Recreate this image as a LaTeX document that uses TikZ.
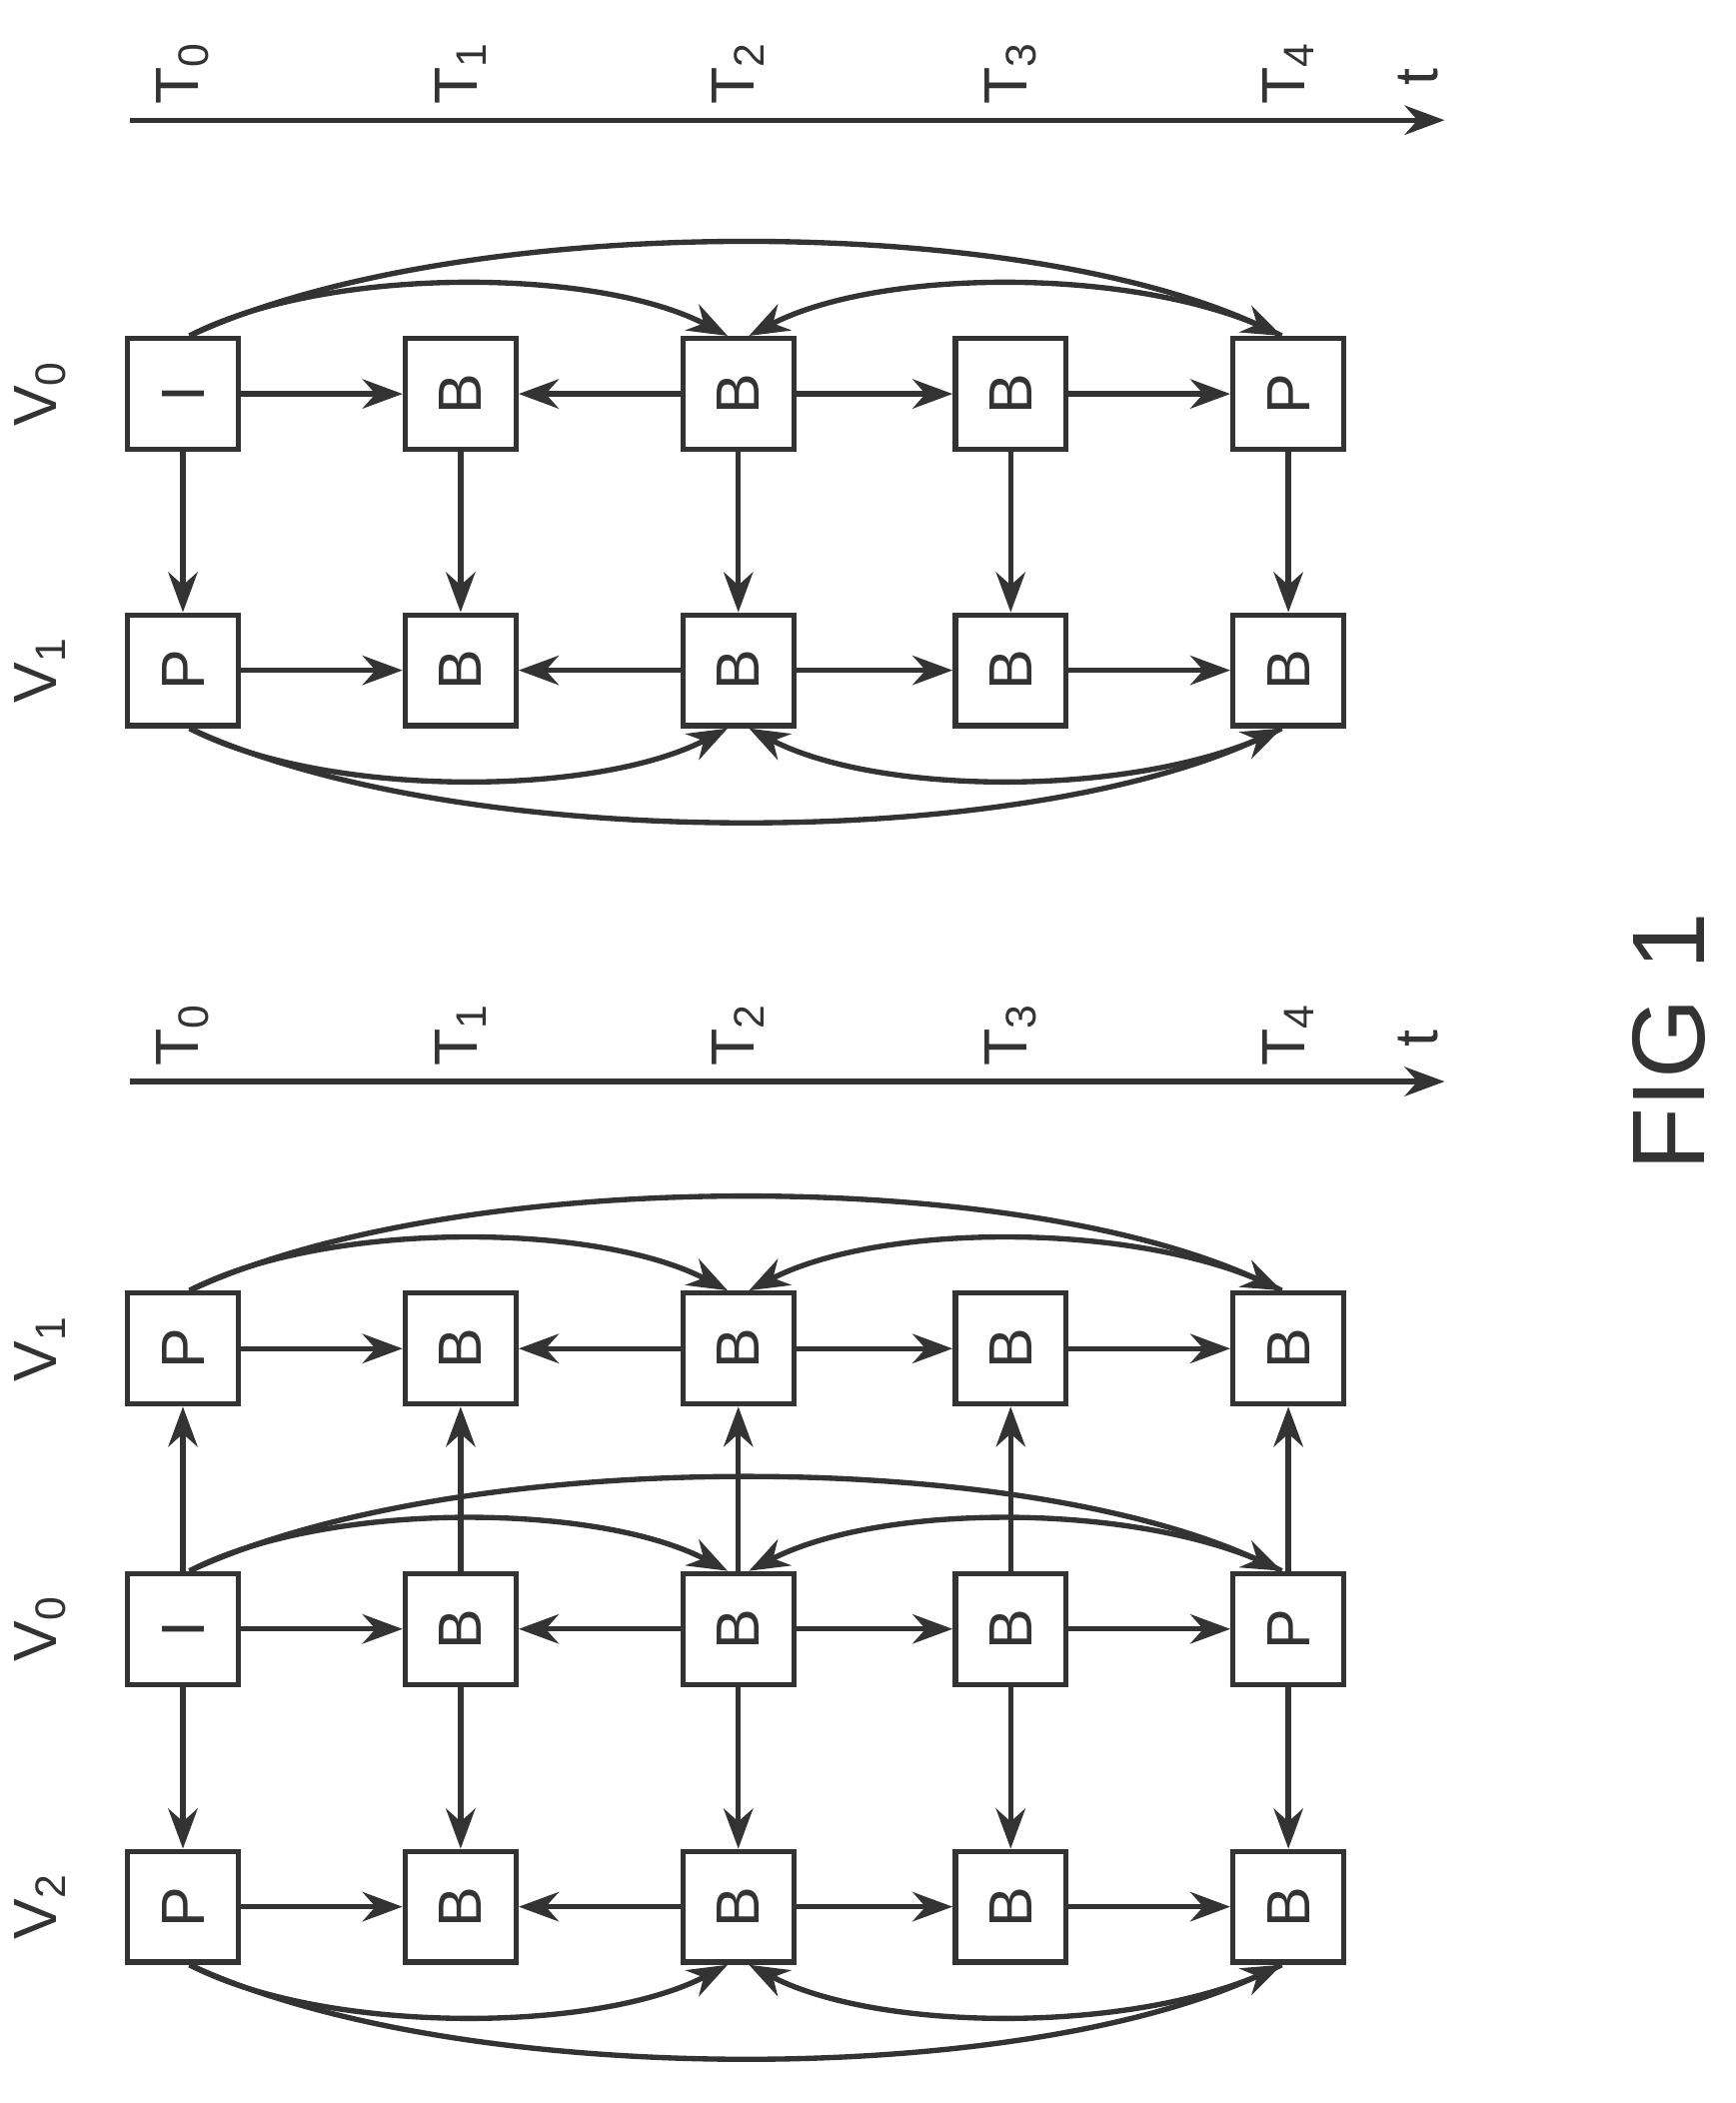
\documentclass[tikz,border=0pt]{standalone}
\usepackage{graphicx}
\usepackage{fontspec}
\setmainfont{Liberation Sans}
\usetikzlibrary{arrows.meta,calc}
\definecolor{ink}{gray}{0.2}
\tikzset{
 bx/.style={draw=ink,text=ink,line width=0.08cm,minimum size=1.66cm,inner sep=0pt,font=\fontsize{26}{30}\selectfont},
 lbl/.style={inner sep=0pt,text=ink,font=\fontsize{26}{30}\selectfont},
 arr/.style={draw=ink,line width=0.08cm,-{Stealth[length=0.6cm,width=0.44cm]}},
}
\newcommand{\rt}[1]{\rotatebox{90}{#1}}
\newcommand{\mkrow}[7]{%
 \node[bx] (#10) at (137,#2) {\rt{#3}};
 \node[bx] (#11) at (345,#2) {\rt{#4}};
 \node[bx] (#12) at (553,#2) {\rt{#5}};
 \node[bx] (#13) at (757,#2) {\rt{#6}};
 \node[bx] (#14) at (965,#2) {\rt{#7}};
 \draw[arr] (#10) -- (#11); \draw[arr] (#12) -- (#11);
 \draw[arr] (#12) -- (#13); \draw[arr] (#13) -- (#14);}
\newcommand{\arcsup}[1]{%
 \draw[arr] ($(#10.north)+(5,0)$) .. controls +(100,-52) and +(-100,-52) .. ($(#12.north)+(-8,0)$);
 \draw[arr] ($(#14.north)+(-5,0)$) .. controls +(-100,-52) and +(100,-52) .. ($(#12.north)+(8,0)$);
 \draw[arr] ($(#10.north)+(5,0)$) .. controls +(200,-93) and +(-200,-93) .. ($(#14.north)+(-5,0)$);}
\newcommand{\arcsdn}[1]{%
 \draw[arr] ($(#10.south)+(5,0)$) .. controls +(100,52) and +(-100,52) .. ($(#12.south)+(-8,0)$);
 \draw[arr] ($(#14.south)+(-5,0)$) .. controls +(-100,52) and +(100,52) .. ($(#12.south)+(8,0)$);
 \draw[arr] ($(#10.south)+(5,0)$) .. controls +(200,93) and +(-200,93) .. ($(#14.south)+(-5,0)$);}
\begin{document}
\begin{tikzpicture}[x=0.02cm,y=-0.02cm]
\fill[white] (0,0) rectangle (1300,1575);
\useasboundingbox (0,0) rectangle (1300,1575);
% top diagram
\mkrow{a}{295}{I}{B}{B}{B}{P}
\mkrow{b}{502}{P}{B}{B}{B}{B}
\foreach \i in {0,...,4} {\draw[arr] (a\i) -- (b\i);}
\arcsup{a}\arcsdn{b}
\node[lbl] (va) at (30,295) {\rt{V\textsubscript{0}}};
\node[lbl] (vb) at (30,502) {\rt{V\textsubscript{1}}};
% bottom diagram
\mkrow{c}{1010}{P}{B}{B}{B}{B}
\mkrow{d}{1220}{I}{B}{B}{B}{P}
\mkrow{e}{1428}{P}{B}{B}{B}{B}
\foreach \i in {0,...,4} {\draw[arr] (d\i) -- (c\i); \draw[arr] (d\i) -- (e\i);}
\arcsup{c}\arcsup{d}\arcsdn{e}
\node[lbl] (vc) at (30,1010) {\rt{V\textsubscript{1}}};
\node[lbl] (vd) at (30,1220) {\rt{V\textsubscript{0}}};
\node[lbl] (ve) at (30,1428) {\rt{V\textsubscript{2}}};
% time axes
\coordinate (ts1) at (97,90); \coordinate (te1) at (1082,90);
\draw[arr] (ts1) -- (te1);
\coordinate (ts2) at (97,810); \coordinate (te2) at (1082,810);
\draw[arr] (ts2) -- (te2);
\foreach \x/\k in {137/0,345/1,553/2,757/3,965/4} {
 \node[lbl] (tt\k) at (\x,55) {\rt{T\textsubscript{\k}}};
 \node[lbl] (tb\k) at (\x,775) {\rt{T\textsubscript{\k}}};}
\node[lbl] (t1) at (1062,58) {\rt{t}};
\node[lbl] (t2) at (1062,778) {\rt{t}};
\node[lbl,font=\fontsize{44}{50}\selectfont] (fig) at (1250,780) {\rt{FIG 1}};
\end{tikzpicture}
\end{document}
